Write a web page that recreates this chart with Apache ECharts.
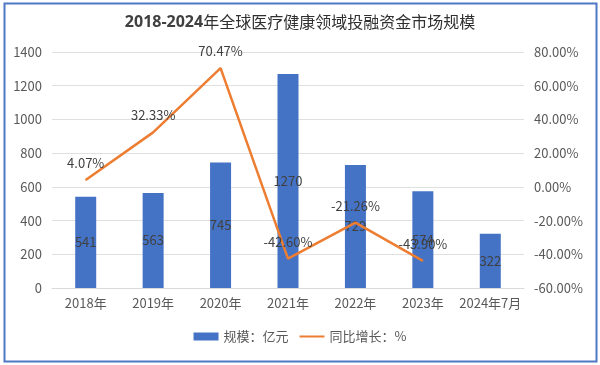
<!DOCTYPE html>
<html><head><meta charset="utf-8">
<script src="https://cdn.jsdelivr.net/npm/echarts@6/dist/echarts.min.js"></script>
<style>html,body{margin:0;padding:0;background:#fff}#c{width:600px;height:365px}</style>
</head><body><div id="c"></div>
<script>
var categories = ['2018年','2019年','2020年','2021年','2022年','2023年','2024年7月'];
var scaleValues = [541, 563, 745, 1270, 729, 574, 322];
var growthValues = [4.07, 32.33, 70.47, -42.60, -21.26, -43.90, null];
var leftTicks = {min: 0, max: 1400, interval: 200};
var rightTicks = {min: -60, max: 80, interval: 20};
var seriesNames = ['规模：亿元', '同比增长：%'];

var chart = echarts.init(document.getElementById('c'), null, {renderer: 'canvas'});
var font = '"Noto Sans CJK SC", "Open Sans", sans-serif';
chart.setOption({
  animation: false,
  textStyle: {fontFamily: font},
  title: {
    text: '{b|2018-2024}{n|年全球医疗健康领域投融资金市场规模}',
    left: 'center', top: 9,
    textStyle: {
      rich: {
        b: {fontSize: 16, fontWeight: 'bold', color: '#404040', fontFamily: '"Open Sans", sans-serif'},
        n: {fontSize: 16, fontWeight: 'normal', color: '#303030', fontFamily: '"Noto Sans CJK SC", sans-serif'}
      }
    }
  },
  graphic: [{
    type: 'rect', left: 2, top: 1, silent: true,
    shape: {width: 592, height: 358},
    style: {fill: null, stroke: '#4f78c4', lineWidth: 2}
  }],
  legend: {
    bottom: 17, left: 'center',
    itemWidth: 25, itemHeight: 8, itemGap: 10,
    textStyle: {fontSize: 13, color: '#595959'},
    data: [{name: seriesNames[0], icon: 'rect'}, {name: seriesNames[1], itemStyle: {opacity: 0}}]
  },
  grid: {left: 52, right: 76, top: 52, bottom: 77},
  xAxis: {
    type: 'category', data: categories,
    axisLine: {lineStyle: {color: '#d9d9d9'}},
    axisTick: {show: false},
    axisLabel: {fontSize: 13, color: '#595959', margin: 9, interval: 0}
  },
  yAxis: [{
    type: 'value', min: leftTicks.min, max: leftTicks.max, interval: leftTicks.interval,
    axisLine: {show: false}, axisTick: {show: false},
    axisLabel: {fontSize: 13, color: '#595959', margin: 10, formatter: function (v) { return String(v); }},
    splitLine: {lineStyle: {color: '#e0e0e0'}}
  }, {
    type: 'value', min: rightTicks.min, max: rightTicks.max, interval: rightTicks.interval,
    axisLine: {show: false}, axisTick: {show: false},
    axisLabel: {fontSize: 13, color: '#595959', margin: 10, formatter: function (v) { return v.toFixed(2) + '%'; }},
    splitLine: {show: false}
  }],
  series: [{
    name: seriesNames[0], type: 'bar', data: scaleValues, barWidth: 21,
    itemStyle: {color: '#4472C4'},
    label: {show: true, position: 'inside', fontSize: 13, color: '#404040'}
  }, {
    name: seriesNames[1], type: 'line', yAxisIndex: 1, data: growthValues,
    showSymbol: true, symbol: 'circle', symbolSize: 1,
    lineStyle: {color: '#ED7D31', width: 2.5},
    itemStyle: {color: '#ED7D31'},
    label: {show: true, position: 'top', distance: 10, fontSize: 13, color: '#404040',
      formatter: function (p) { return p.value == null ? '' : p.value.toFixed(2) + '%'; }}
  }]
});
</script></body></html>
